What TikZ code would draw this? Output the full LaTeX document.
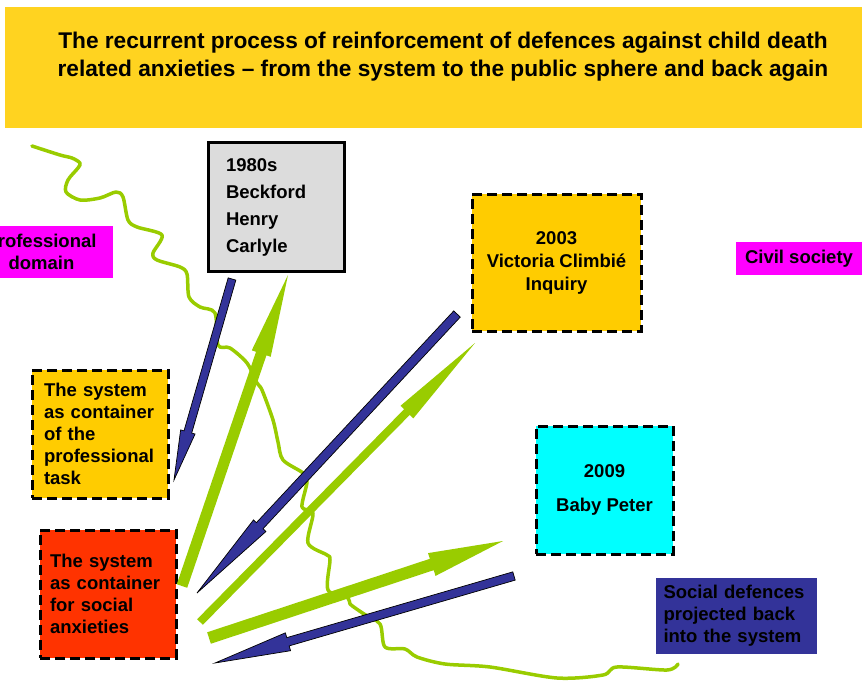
\documentclass[tikz,border=0pt]{standalone}
\usepackage{fontspec}
\setmainfont{Liberation Sans}
\usetikzlibrary{calc}
\definecolor{banner}{RGB}{255,211,32}
\definecolor{amber}{RGB}{255,204,0}
\definecolor{flame}{RGB}{255,51,0}
\definecolor{navy}{RGB}{51,51,153}
\definecolor{leaf}{RGB}{153,204,0}
\definecolor{pale}{RGB}{220,220,220}
\definecolor{pink}{RGB}{255,0,255}
\definecolor{aqua}{RGB}{0,255,255}
\newcommand{\blockarrow}[6][]{%
  \path[#1] ($(#2)!#4!90:(#3)$)
    -- ($(#3)!#6!(#2)!#4!90:(#3)$)
    -- ($(#3)!#6!(#2)!#5!90:(#3)$)
    -- (#3)
    -- ($(#3)!#6!(#2)!#5!-90:(#3)$)
    -- ($(#3)!#6!(#2)!#4!-90:(#3)$)
    -- ($(#2)!#4!-90:(#3)$) -- cycle;}
\begin{document}
\begin{tikzpicture}[x=1pt, y=-1pt,
  tag/.style={rectangle, inner sep=0pt, outer sep=0pt, align=center,
    font=\fontsize{18.5}{22}\selectfont\bfseries},
  dashtag/.style={tag, draw=black, line width=3pt, dash pattern=on 10pt off 5pt},
  navyarrow/.style={fill=navy, draw=black, line width=0.7pt},
  leafarrow/.style={fill=leaf}]
  \useasboundingbox (0,0) rectangle (862,680);
  \node[fill=banner, minimum width=870, minimum height=121, anchor=north west,
    inner sep=0pt] (banner) at (5,7) {};
  \node[font=\fontsize{22.7}{28}\selectfont\bfseries, align=center] (title) at (443,57)
    {The recurrent process of reinforcement of defences against child death\\
     related anxieties – from the system to the public sphere and back again};
  \draw[leaf, line width=3.5pt, line cap=round, line join=round]
    plot[smooth, tension=0.5] coordinates {(32,146) (60,155) (72,158) (80,163) (78,168)
      (68,180) (66,192) (80,200) (100,198) (116,192) (123,197) (128,220) (137,227)
      (162,235) (153,253) (157,260) (180,267) (187,274) (189,297) (200,307) (215,313)
      (218,345) (230,348) (247,363) (257,383) (262,390) (273,420) (278,442) (283,460)
      (303,473) (307,482) (302,507) (313,513) (308,543) (327,555) (330,560) (328,590)
      (348,598) (350,604) (364,614) (380,624) (385,647) (405,649) (417,657) (445,664)
      (490,667) (557,678) (603,675) (617,667) (667,670) (678,664)};
  \node[tag, fill=pink, minimum width=143, minimum height=52] (prof) at (41.5,252)
    {professional\\domain};
  \node[tag, fill=pale, draw=black, line width=3pt, minimum width=136, minimum height=129,
    text width=100, align=left, font=\fontsize{18.5}{27}\selectfont\bfseries] (eighties)
    at (276,207) {1980s\\Beckford\\Henry\\Carlyle};
  \node[dashtag, fill=amber, minimum width=169, minimum height=137,
    font=\fontsize{18.5}{23}\selectfont\bfseries] (climbie) at (556.5,262.5)
    {2003\\Victoria Climbié\\Inquiry};
  \node[tag, fill=pink, minimum width=126, minimum height=33] (civil) at (799,258.5)
    {Civil society};
  \node[dashtag, fill=amber, minimum width=136, minimum height=128, text width=112,
    align=left] (task) at (100,434) {The system\\as container\\of the\\professional\\task};
  \node[dashtag, fill=flame, minimum width=136, minimum height=128, text width=116,
    align=left] (anxiety) at (108,594) {The system\\as container\\for social\\anxieties};
  \node[dashtag, fill=aqua, minimum width=137, minimum height=128,
    font=\fontsize{18.5}{34}\selectfont\bfseries] (peter) at (604.5,490) {2009\\Baby Peter};
  \node[tag, fill=navy, minimum width=161, minimum height=76, text width=146,
    align=left] (social) at (736.5,616) {Social defences\\projected back\\into the system};
  \coordinate (d80top) at (232,279);
  \coordinate (d80tip) at (174,480);
  \coordinate (u80tail) at (182,586);
  \coordinate (u80tip) at (288,275);
  \coordinate (d03top) at (457,314);
  \coordinate (d03tip) at (197,593);
  \coordinate (u03tail) at (200,622);
  \coordinate (u03tip) at (475,343);
  \coordinate (u09tail) at (209,638);
  \coordinate (u09tip) at (503,541);
  \coordinate (d09top) at (514,576);
  \coordinate (d09tip) at (215,663);
  \blockarrow[leafarrow]{u80tail}{u80tip}{5.5pt}{10pt}{83pt}
  \blockarrow[leafarrow]{u03tail}{u03tip}{4pt}{9pt}{97pt}
  \blockarrow[leafarrow]{u09tail}{u09tip}{6pt}{12pt}{75pt}
  \blockarrow[navyarrow]{d80top}{d80tip}{4pt}{7.5pt}{50pt}
  \blockarrow[navyarrow]{d03top}{d03tip}{4.5pt}{8.5pt}{92pt}
  \blockarrow[navyarrow]{d09top}{d09tip}{4.3pt}{9.3pt}{76pt}
\end{tikzpicture}
\end{document}
